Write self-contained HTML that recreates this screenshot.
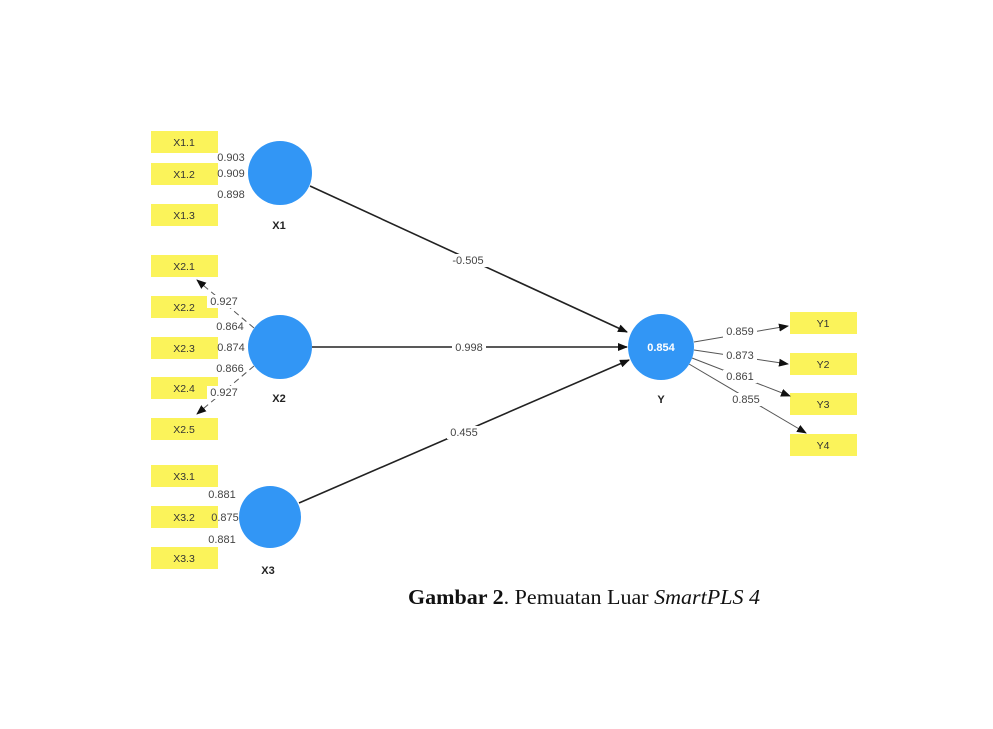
<!DOCTYPE html>
<html><head><style>body{margin:0;background:#fff}</style></head><body>
<svg width="993" height="724" xmlns="http://www.w3.org/2000/svg" font-family="Liberation Sans, sans-serif">
<defs><marker id="a" markerWidth="10" markerHeight="8" refX="9" refY="4" orient="auto" markerUnits="userSpaceOnUse"><path d="M0,0 L10,4 L0,8 z" fill="#111"/></marker></defs>
<g fill="#fbf35a">
<rect x="151" y="131" width="67" height="22"/><rect x="151" y="163" width="67" height="22"/><rect x="151" y="204" width="67" height="22"/>
<rect x="151" y="255" width="67" height="22"/><rect x="151" y="296" width="67" height="22"/><rect x="151" y="337" width="67" height="22"/><rect x="151" y="377" width="67" height="22"/><rect x="151" y="418" width="67" height="22"/>
<rect x="151" y="465" width="67" height="22"/><rect x="151" y="506" width="67" height="22"/><rect x="151" y="547" width="67" height="22"/>
<rect x="790" y="312" width="67" height="22"/><rect x="790" y="353" width="67" height="22"/><rect x="790" y="393" width="67" height="22"/><rect x="790" y="434" width="67" height="22"/>
</g>
<g font-size="10.5" fill="#333" text-anchor="middle">
<text x="184" y="146">X1.1</text><text x="184" y="178">X1.2</text><text x="184" y="219">X1.3</text>
<text x="184" y="270">X2.1</text><text x="184" y="311">X2.2</text><text x="184" y="352">X2.3</text><text x="184" y="392">X2.4</text><text x="184" y="433">X2.5</text>
<text x="184" y="480">X3.1</text><text x="184" y="521">X3.2</text><text x="184" y="562">X3.3</text>
<text x="823" y="327">Y1</text><text x="823" y="368">Y2</text><text x="823" y="408">Y3</text><text x="823" y="449">Y4</text>
</g>
<g stroke="#222" stroke-width="1.6" fill="none">
<line x1="310" y1="186" x2="627" y2="332" marker-end="url(#a)"/>
<line x1="312" y1="347" x2="627" y2="347" marker-end="url(#a)"/>
<line x1="299" y1="503" x2="629" y2="360" marker-end="url(#a)"/>
</g>
<g stroke="#555" stroke-width="1" fill="none">
<line x1="254" y1="328" x2="197" y2="280" marker-end="url(#a)" stroke-dasharray="6,4"/>
<line x1="254" y1="366" x2="197" y2="414" marker-end="url(#a)" stroke-dasharray="6,4"/>
<line x1="694" y1="342" x2="788" y2="326" marker-end="url(#a)"/>
<line x1="694" y1="350" x2="788" y2="364" marker-end="url(#a)"/>
<line x1="692" y1="358" x2="790" y2="396" marker-end="url(#a)"/>
<line x1="689" y1="364" x2="806" y2="433" marker-end="url(#a)"/>
</g>
<g font-size="11" fill="#444" text-anchor="middle">
<rect x="447" y="254" width="42" height="13" fill="#fff"/><text x="468" y="264">-0.505</text>
<rect x="452" y="341" width="34" height="13" fill="#fff"/><text x="469" y="351">0.998</text>
<rect x="447" y="426" width="34" height="13" fill="#fff"/><text x="464" y="436">0.455</text>
<text x="231" y="161">0.903</text><text x="231" y="177">0.909</text><text x="231" y="198">0.898</text>
<rect x="207" y="295" width="34" height="13" fill="#fff"/><text x="224" y="305">0.927</text>
<text x="230" y="330">0.864</text><text x="231" y="351">0.874</text><text x="230" y="372">0.866</text>
<rect x="207" y="386" width="34" height="13" fill="#fff"/><text x="224" y="396">0.927</text>
<text x="222" y="498">0.881</text><text x="225" y="521">0.875</text><text x="222" y="543">0.881</text>
<rect x="723" y="325" width="34" height="13" fill="#fff"/><text x="740" y="335">0.859</text>
<rect x="723" y="350" width="34" height="13" fill="#fff"/><text x="740" y="359">0.873</text>
<rect x="723" y="370" width="34" height="13" fill="#fff"/><text x="740" y="380">0.861</text>
<rect x="729" y="393" width="34" height="13" fill="#fff"/><text x="746" y="403">0.855</text>
</g>
<g fill="#3296f5">
<circle cx="280" cy="173" r="32"/><circle cx="280" cy="347" r="32"/><circle cx="270" cy="517" r="31"/><circle cx="661" cy="347" r="33"/>
</g>
<text x="661" y="351" font-size="11" font-weight="bold" fill="#fff" text-anchor="middle">0.854</text>
<g font-size="11" font-weight="bold" fill="#222" text-anchor="middle">
<text x="279" y="229">X1</text><text x="279" y="402">X2</text><text x="268" y="574">X3</text><text x="661" y="403">Y</text>
</g>
<text x="408" y="604" font-family="Liberation Serif, serif" font-size="21" fill="#111" textLength="352" lengthAdjust="spacingAndGlyphs"><tspan font-weight="bold">Gambar 2</tspan>. Pemuatan Luar <tspan font-style="italic">SmartPLS 4</tspan></text>
</svg>
</body></html>
